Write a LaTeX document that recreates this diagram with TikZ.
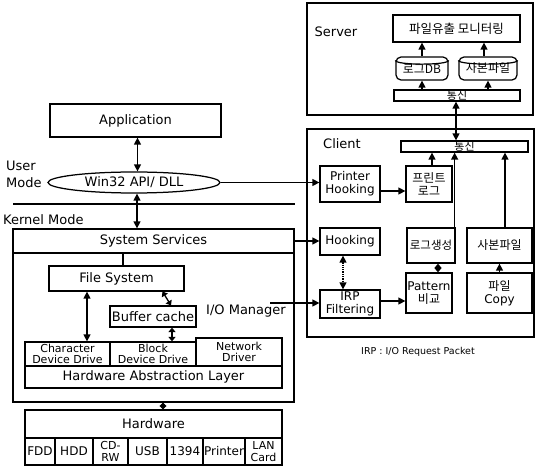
\documentclass[tikz,border=0pt]{standalone}
\usepackage{fontspec}
\setmainfont{DejaVu Sans}
\newfontfamily\kr{Noto Sans CJK KR}
\usetikzlibrary{arrows.meta,shapes.geometric}

\tikzset{
  txt/.style={font=\fontsize{13}{14}\selectfont, inner sep=0pt},
  bx/.style={draw, line width=1.25pt, inner sep=0pt, align=center,
             font=\fontsize{13}{14}\selectfont},
  sbx/.style={bx, font=\fontsize{12}{13}\selectfont},
  tbx/.style={bx, font=\fontsize{11}{11.5}\selectfont},
  krbx/.style={bx, font=\kr\fontsize{12}{13}\selectfont},
  cyl/.style={krbx, rounded corners=5pt},
  frame/.style={draw, line width=1.25pt, inner sep=0pt},
  arr/.style={line width=1.3pt, -{Triangle[length=7pt,width=7pt]}},
  dbl/.style={line width=1.3pt, {Triangle[length=7pt,width=7pt]}-{Triangle[length=7pt,width=7pt]}},
  sdbl/.style={line width=1.3pt, {Triangle[length=4.5pt,width=7pt]}-{Triangle[length=4.5pt,width=7pt]}},
  plain/.style={line width=1.2pt},
}

\begin{document}
\begin{tikzpicture}[x=1pt,y=-1pt]
\useasboundingbox (0,0) rectangle (536,470);

% ---------- server side ----------
\node[frame, minimum width=226pt, minimum height=112pt] (server) at (420,59) {};
\node[txt] (serverlbl) at (336,32) {Server};
\node[krbx, minimum width=127pt, minimum height=27pt, font=\kr\fontsize{12.5}{13}\selectfont] (monitor) at (456.5,28.5) {파일유출 모니터링};
\node[cyl, minimum width=52pt, minimum height=23pt] (logdb) at (422,68.5) {로그DB};
\node[cyl, minimum width=58pt, minimum height=23pt] (copys) at (488,68.5) {사본파일};
\foreach \c in {logdb,copys}
  \draw[line width=1.2pt] ([yshift=-4pt]\c.north west) .. controls ([yshift=-9pt]\c.north west) and ([yshift=-9pt]\c.north east) .. ([yshift=-4pt]\c.north east);
\node[krbx, minimum width=126pt, minimum height=11pt, font=\kr\fontsize{11}{11}\selectfont] (comms) at (457,95.5) {통신};

\draw[arr] (comms.north -| logdb.south) -- (logdb.south);
\draw[arr] (comms.north -| copys.south) -- (copys.south);
\draw[arr] (logdb.north) -- (logdb.north |- monitor.south);
\draw[arr] ([xshift=-4pt]copys.north) -- ([xshift=-4pt]copys.north |- monitor.south);

% ---------- client side ----------
\node[frame, minimum width=227pt, minimum height=208pt] (client) at (420.5,233) {};
\node[txt] (clientlbl) at (342,144) {Client};
\node[krbx, minimum width=127pt, minimum height=11pt, font=\kr\fontsize{11}{11}\selectfont] (commc) at (464.5,146.5) {통신};

\node[sbx, minimum width=60pt, minimum height=36pt] (prnhook) at (350,184) {Printer\\Hooking};
\node[krbx, minimum width=46pt, minimum height=36pt] (prnlog) at (429,184) {프린트\\로그};
\node[sbx, minimum width=60pt, minimum height=27pt] (hook) at (350,241.5) {Hooking};
\node[sbx, minimum width=60pt, minimum height=28pt] (irp) at (350,304) {IRP\\Filtering};
\node[krbx, minimum width=48pt, minimum height=35pt, font=\kr\fontsize{11.5}{12}\selectfont] (loggen) at (431,245.5) {로그생성};
\node[krbx, minimum width=65pt, minimum height=35pt] (copyc) at (499.5,245.5) {사본파일};
\node[sbx, minimum width=46pt, minimum height=40pt] (pattern) at (429,293) {Pattern\\{\kr 비교}};
\node[sbx, minimum width=65pt, minimum height=40pt] (filecopy) at (499.5,293) {{\kr 파일}\\Copy};
\node[inner sep=0pt, font=\fontsize{9.5}{10}\selectfont, anchor=west] (legend) at (361,352) {IRP : I/O Request Packet};

\draw[dbl] ([xshift=-1pt]comms.south) -- ([xshift=-1pt]comms.south |- commc.north);
\draw[arr] ([xshift=3pt]prnlog.north) -- ([xshift=3pt]prnlog.north |- commc.south);
\draw[arr] ([xshift=-1pt]loggen.north east) -- ([xshift=-1pt]loggen.north east |- commc.south);
\draw[arr] ([xshift=5.5pt]copyc.north) -- ([xshift=5.5pt]copyc.north |- commc.south);
\draw[arr] ([yshift=-7pt]prnhook.east) -- ([yshift=-7pt]prnhook.east -| prnlog.west);
\draw[dbl, densely dotted] ([xshift=-7pt]hook.south) -- ([xshift=-7pt]hook.south |- irp.north);
\draw[arr] ([yshift=3pt]irp.east) -- ([yshift=3pt]irp.east -| pattern.west);
\draw[sdbl] ([xshift=9pt]pattern.north) -- ([xshift=9pt]pattern.north |- loggen.south);
\draw[arr] (filecopy.north) -- (copyc.south);

% ---------- user mode ----------
\node[bx, minimum width=171pt, minimum height=33pt] (app) at (135.5,120.5) {Application};
\node[draw, ellipse, line width=1.25pt, inner sep=0pt, minimum width=172pt, minimum height=21pt,
      font=\fontsize{13}{14}\selectfont] (win32) at (134,182.5) {Win32 API/ DLL};
\node[txt, anchor=west, align=left, font=\fontsize{13}{17}\selectfont] (usermode) at (6,174) {User\\Mode};
\coordinate (sepl) at (13,204);
\coordinate (sepr) at (295,204);
\draw[plain] (sepl) -- (sepr);
\node[txt, anchor=west] (kernelmode) at (3,220) {Kernel Mode};

\draw[dbl] ([xshift=2pt]app.south) -- ([xshift=2pt]app.south |- win32.north);
\draw[arr] (win32.east) -- (win32.east -| prnhook.west);

% ---------- kernel ----------
\node[frame, minimum width=281pt, minimum height=173pt] (kernel) at (153.5,315.5) {};
\node[bx, minimum width=281pt, minimum height=24pt] (sys) at (153.5,241) {System Services};
\node[bx, minimum width=135pt, minimum height=25pt] (fs) at (116.5,278.5) {File System};
\node[bx, minimum width=86pt, minimum height=21pt] (buf) at (153,316.5) {Buffer cache};
\node[txt] (iom) at (246,311) {I/O Manager};
\coordinate (iox) at (270,303);
\node[tbx, minimum width=85pt, minimum height=24pt] (chr) at (67.5,354) {Character\\Device Drive};
\node[tbx, minimum width=86pt, minimum height=24pt] (blk) at (153,354) {Block\\Device Drive};
\node[tbx, minimum width=86pt, minimum height=28pt] (net) at (239,352) {Network\\Driver};
\node[bx, minimum width=257pt, minimum height=22pt] (hal) at (153.5,377) {Hardware Abstraction Layer};

\draw[dbl] ([xshift=3pt]win32.south) -- ([xshift=3pt]win32.south |- sys.north);
\draw[arr] (sys.east) -- (sys.east -| hook.west);
\draw[arr] (iox) -- (iox -| irp.west);
\draw[plain] ([xshift=6.5pt]fs.north) -- ([xshift=6.5pt]fs.north |- sys.south);
\draw[sdbl] ([xshift=46pt]fs.south) -- ([xshift=18pt]buf.north);
\draw[dbl] ([xshift=-29.5pt]fs.south) -- ([xshift=-29.5pt]fs.south |- chr.north);
\draw[sdbl] ([xshift=19pt]buf.south) -- ([xshift=19pt]buf.south |- blk.north);

% ---------- hardware ----------
\node[bx, minimum width=257pt, minimum height=28pt] (hw) at (153.5,424) {Hardware};
\node[sbx, minimum width=30pt, minimum height=27pt] (fdd) at (40,451.5) {FDD};
\node[sbx, minimum width=38pt, minimum height=27pt] (hdd) at (74,451.5) {HDD};
\node[tbx, minimum width=35pt, minimum height=27pt] (cdrw) at (110.5,451.5) {CD-\\RW};
\node[sbx, minimum width=39pt, minimum height=27pt] (usb) at (147.5,451.5) {USB};
\node[sbx, minimum width=36pt, minimum height=27pt] (fw) at (185,451.5) {1394};
\node[sbx, minimum width=42pt, minimum height=27pt] (prn) at (224,451.5) {Printer};
\node[tbx, minimum width=37pt, minimum height=27pt] (lan) at (263.5,451.5) {LAN\\Card};

\draw[line width=1.3pt, {Triangle[length=3.5pt,width=7pt]}-{Triangle[length=3.5pt,width=7pt]}]
  ([xshift=9.5pt]kernel.south) -- ([xshift=9.5pt]kernel.south |- hw.north);
\end{tikzpicture}
\end{document}
